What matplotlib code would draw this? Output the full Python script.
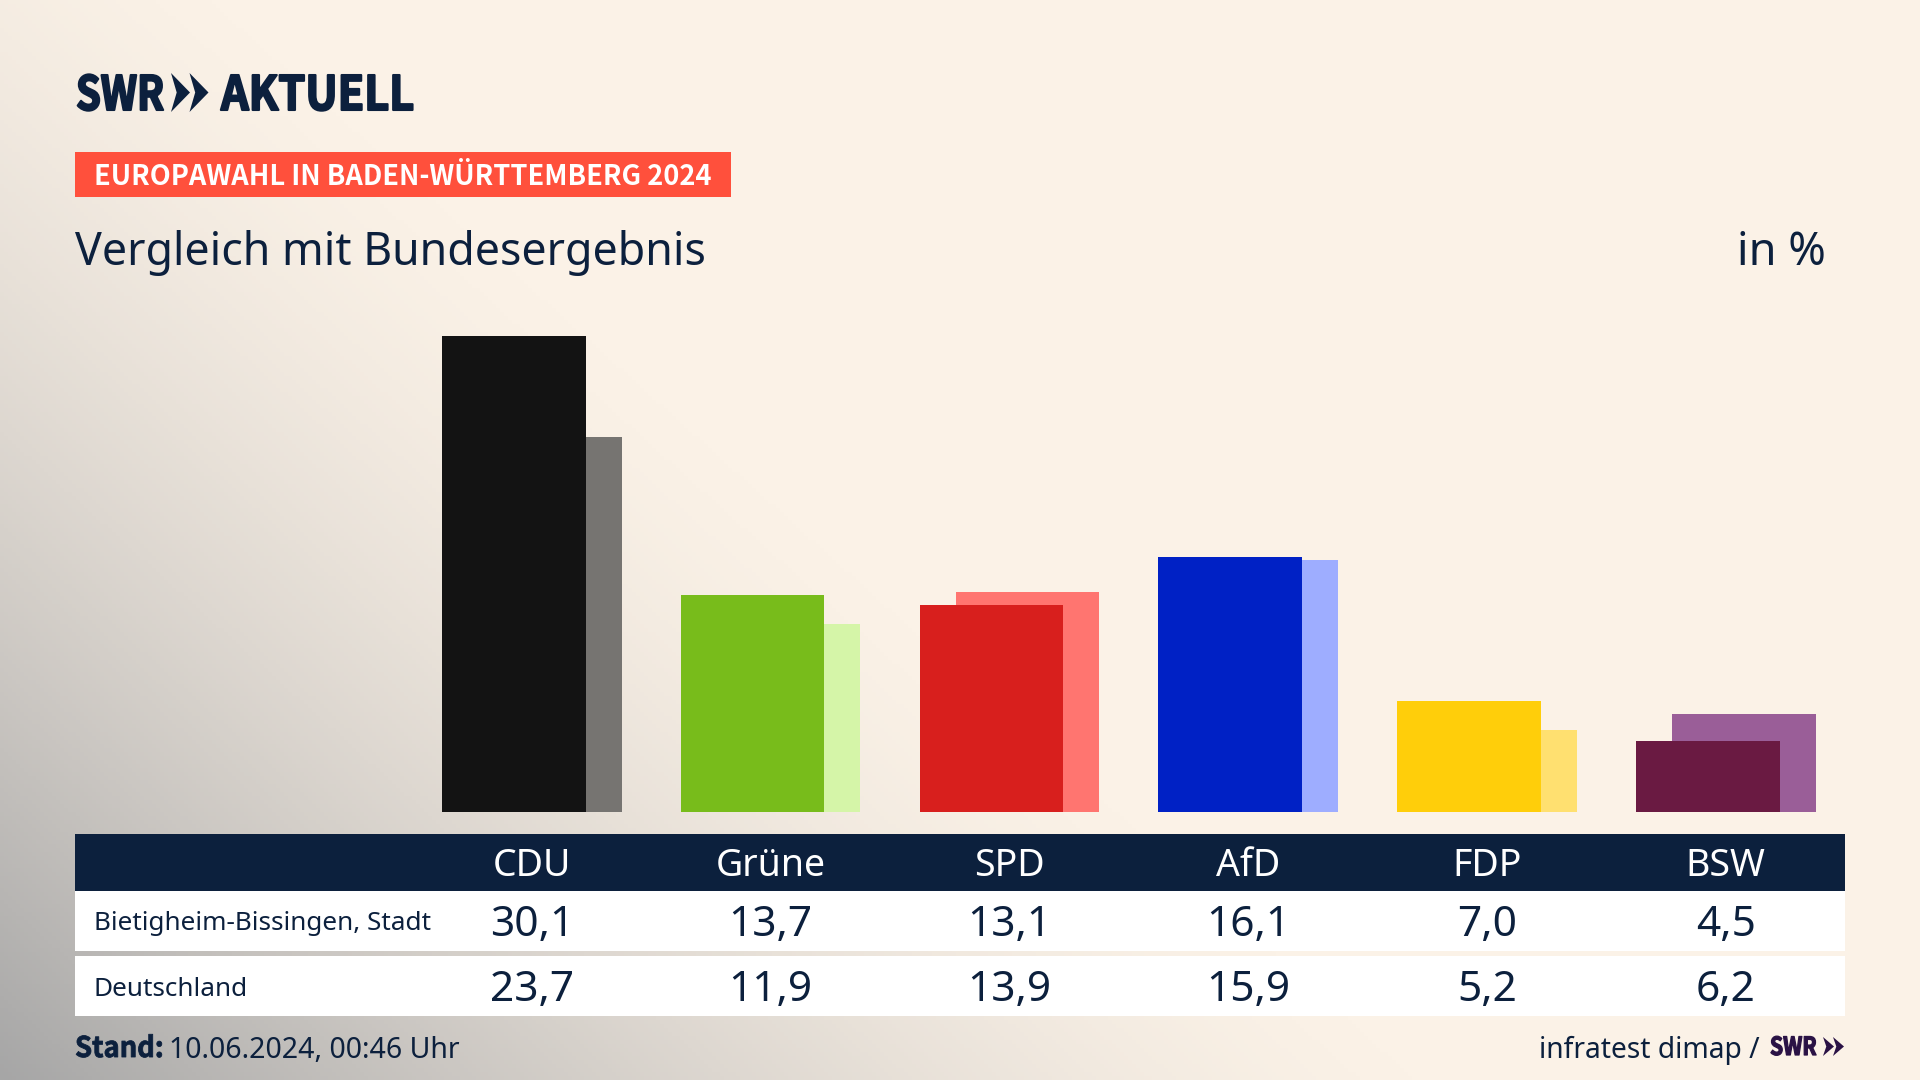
import numpy as np
import matplotlib
matplotlib.use('Agg')
import matplotlib.pyplot as plt
import matplotlib.patheffects as pe
from matplotlib.colors import LinearSegmentedColormap
from matplotlib.patches import Polygon, Rectangle
from matplotlib.transforms import Affine2D

plt.rcParams['font.family'] = ['Noto Sans', 'DejaVu Sans']
NARROW = ['Noto Sans CJK SC', 'DejaVu Sans']

# Chart data
parties = ['CDU', 'Grüne', 'SPD', 'AfD', 'FDP', 'BSW']
stadt = [30.1, 13.7, 13.1, 16.1, 7.0, 4.5]
deutschland = [23.7, 11.9, 13.9, 15.9, 5.2, 6.2]
stadt_colors = ['#131313', '#78BC1B', '#D81F1D', '#0021C5', '#FFCE0A', '#6A1A42']
bund_colors = ['#767471', '#D5F5A8', '#FF7570', '#9EADFF', '#FFE070', '#9A5E98']
row_labels = ['Bietigheim-Bissingen, Stadt', 'Deutschland']

NAVY = '#0C203D'
PURPLE = '#2A1245'
CREAM = '#FBF2E7'

# Layout in pixels
W, H = 1920, 1080
BASE_Y = 812
PX_PER_PCT = 15.83
GROUP_STEP = 238.8
BAR_W = 143.5
BAR_SHIFT = 36
FIRST_LEFT = 442
TABLE_L, TABLE_R = 75, 1845


class Squeeze(pe.AbstractPathEffect):
    # Narrows a text horizontally around its left edge, the logo font is condensed
    def __init__(self, x0, sx, stroke):
        super().__init__()
        self.x0, self.sx, self.stroke = x0, sx, stroke

    def draw_path(self, renderer, gc, tpath, affine, rgbFace=None):
        squeezed = affine + Affine2D().translate(-self.x0, 0).scale(self.sx, 1).translate(self.x0, 0)
        gc0 = renderer.new_gc()
        gc0.copy_properties(gc)
        gc0.set_linewidth(self.stroke)
        gc0.set_foreground(rgbFace)
        renderer.draw_path(gc0, tpath, squeezed, rgbFace)
        gc0.restore()


def fmt(v):
    return f"{v:.1f}".replace('.', ',')


fig = plt.figure(figsize=(19.2, 10.8), dpi=100)

# Page background with grey glow from the bottom left corner
bg = fig.add_axes([0, 0, 1, 1], zorder=0)
yy, xx = np.mgrid[0:H:270j, 0:W:480j]
dist = xx / 1450 + (H - yy) / 1300
glow = np.clip(1 - dist, 0, 1) ** 1.5
cmap = LinearSegmentedColormap.from_list('glow', [CREAM, '#A6A6A6'])
bg.imshow(glow, cmap=cmap, vmin=0, vmax=1, extent=[0, W, H, 0], aspect='auto')
bg.set_xlim(0, W)
bg.set_ylim(H, 0)
bg.axis('off')

# Bars: axes runs from the page left edge to the right edge, y is percent
ax = fig.add_axes([0, (H - BASE_Y) / H, 1, (BASE_Y - 300) / H], zorder=1)
ax.patch.set_alpha(0)
ax.set_xlim(-FIRST_LEFT / GROUP_STEP, (W - FIRST_LEFT) / GROUP_STEP)
ax.set_ylim(0, (BASE_Y - 300) / PX_PER_PCT)
ax.axis('off')
x = np.arange(len(parties))
ax.bar(x + BAR_SHIFT / GROUP_STEP, deutschland, width=BAR_W / GROUP_STEP, align='edge', color=bund_colors)
ax.bar(x, stadt, width=BAR_W / GROUP_STEP, align='edge', color=stadt_colors)

# Everything else is placed in page pixels
pg = fig.add_axes([0, 0, 1, 1], zorder=2)
pg.patch.set_alpha(0)
pg.set_xlim(0, W)
pg.set_ylim(H, 0)
pg.axis('off')


def chevrons(x0, y0, h, w, gap, color):
    for k in range(2):
        xs = x0 + k * gap
        pg.add_patch(Polygon([(xs, y0), (xs + w, y0 + h / 2), (xs, y0 + h), (xs + w * 0.3, y0 + h / 2)],
                             closed=True, color=color, lw=0))


def logo_text(tx, ty, s, size, color, sx, stroke):
    t = pg.text(tx, ty, s, fontsize=size, family=NARROW, fontweight='bold', color=color, va='baseline', ha='left')
    t.set_path_effects([Squeeze(tx, sx, stroke)])


# Logo
logo_text(76, 110, 'SWR', 34, NAVY, 0.84, 1.5)
chevrons(171, 73, 39, 19, 18.5, NAVY)
logo_text(221, 110, 'AKTUELL', 34, NAVY, 0.915, 1.5)

# Kicker
pg.add_patch(Rectangle((75, 152), 656, 45, color='#FF503C', lw=0))
pg.text(94, 177, 'EUROPAWAHL IN BADEN-WÜRTTEMBERG 2024', fontsize=19.6, family=NARROW, fontweight='bold',
        color='white', va='center', ha='left')

# Title
pg.text(75, 253, 'Vergleich mit Bundesergebnis', fontsize=32.2, color=NAVY, va='center', ha='left')
pg.text(1826, 253, 'in %', fontsize=32.5, color=NAVY, va='center', ha='right')

# Table
pg.add_patch(Rectangle((TABLE_L, 834), TABLE_R - TABLE_L, 57, color=NAVY, lw=0))
pg.add_patch(Rectangle((TABLE_L, 891), TABLE_R - TABLE_L, 60, color='white', lw=0))
pg.add_patch(Rectangle((TABLE_L, 956), TABLE_R - TABLE_L, 60, color='white', lw=0))
pg.text(94, 924, row_labels[0], fontsize=18.8, color=NAVY, va='center', ha='left')
pg.text(94, 989, row_labels[1], fontsize=18.8, color=NAVY, va='center', ha='left')
centers = [FIRST_LEFT + GROUP_STEP * i + (BAR_W + BAR_SHIFT) / 2 for i in x]
for cx, name, a, b in zip(centers, parties, stadt, deutschland):
    pg.text(cx, 866, name, fontsize=27, color='white', va='center', ha='center')
    pg.text(cx, 925, fmt(a), fontsize=30.5, color=NAVY, va='center', ha='center')
    pg.text(cx, 990, fmt(b), fontsize=30.5, color=NAVY, va='center', ha='center')

# Footer
logo_text(75, 1057, 'Stand:', 20.5, NAVY, 0.96, 0.6)
pg.text(169, 1051, '10.06.2024, 00:46 Uhr', fontsize=20.5, color=NAVY, va='center', ha='left')
pg.text(1760, 1050, 'infratest dimap /', fontsize=20.3, color=NAVY, va='center', ha='right')
logo_text(1770, 1055, 'SWR', 18, PURPLE, 0.84, 0.9)
chevrons(1823, 1037, 19, 11, 10, PURPLE)

fig.savefig('out.png', dpi=100)
plt.close(fig)
